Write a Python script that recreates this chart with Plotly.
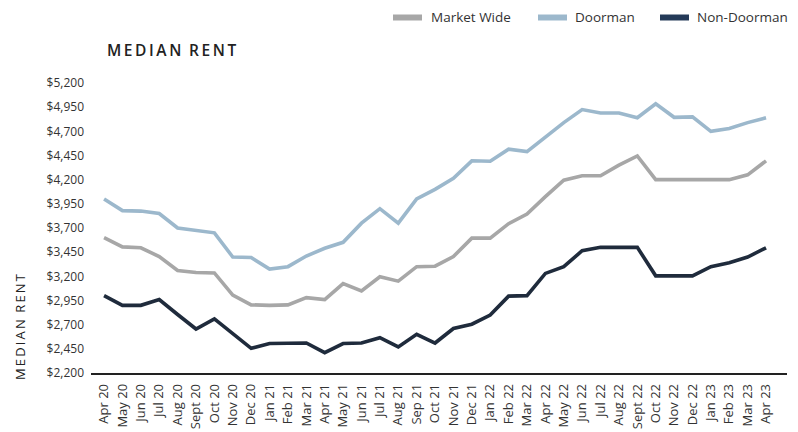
import plotly.graph_objects as go

months = ["Apr 20","May 20","Jun 20","Jul 20","Aug 20","Sept 20","Oct 20","Nov 20","Dec 20",
          "Jan 21","Feb 21","Mar 21","Apr 21","May 21","Jun 21","Jul 21","Aug 21","Sep 21","Oct 21","Nov 21","Dec 21",
          "Jan 22","Feb 22","Mar 22","Apr 22","May 22","Jun 22","Jul 22","Aug 22","Sept 22","Oct 22","Nov 22","Dec 22",
          "Jan 23","Feb 23","Mar 23","Apr 23"]

market_wide = [3600,3505,3495,3405,3260,3240,3235,3005,2905,2900,2905,2980,2960,3125,3050,3195,3150,3300,3305,3405,3595,
               3595,3745,3845,4025,4195,4240,4240,4350,4445,4200,4200,4200,4200,4200,4250,4395]
doorman = [4000,3880,3875,3850,3700,3675,3650,3400,3395,3275,3300,3410,3490,3552,3750,3900,3750,4000,4100,4215,4395,
           4390,4515,4490,4645,4790,4925,4890,4890,4840,4985,4845,4850,4700,4730,4790,4840]
non_doorman = [3000,2900,2900,2960,2805,2655,2760,2610,2455,2505,2510,2510,2410,2505,2510,2565,2470,2600,2510,2660,2705,
               2800,2995,3000,3230,3300,3465,3500,3500,3500,3205,3205,3205,3300,3340,3400,3495]

series_names = ["Market Wide", "Doorman", "Non-Doorman"]
line_colors = ["#a7a7a7", "#9cb8cc", "#1f2b3c"]
legend_colors = ["#a7a7a7", "#9cb8cc", "#243a58"]

y_ticks = [2200,2450,2700,2950,3200,3450,3700,3950,4200,4450,4700,4950,5200]
y_tick_labels = ["${:,}".format(v) for v in y_ticks]

FONT = "Open Sans"
OFF = 8  # page body margin
W, H = 798 - OFF, 432 - OFF
L, T = 91 - OFF, 83 - OFF
R = W - (787 - OFF)
B = H - (373 - OFF)
pw, ph = W - L - R, H - T - B

def px(sx, sy):
    """screen pixel -> paper coords"""
    return (sx - OFF - L) / pw, (H - B - (sy - OFF)) / ph

def spaced(s, sep="\u2009"):
    return sep.join(s)

fig = go.Figure()
for name, vals, color in zip(series_names, [market_wide, doorman, non_doorman], line_colors):
    fig.add_trace(go.Scatter(x=months, y=vals, mode="lines", name=name, showlegend=False,
                             line=dict(color=color, width=3.6)))

# custom legend (swatch screen x-range, text start x)
LEG_Y = 17.5
legend_layout = [(393, 422, 430), (538, 567, 574), (660, 689, 696)]
shapes, annotations = [], []
for name, color, (s0, s1, t0) in zip(series_names, legend_colors, legend_layout):
    x0, yy = px(s0, LEG_Y)
    x1, _ = px(s1, LEG_Y)
    xt, _ = px(t0, LEG_Y)
    shapes.append(dict(type="line", xref="paper", yref="paper", x0=x0, x1=x1, y0=yy, y1=yy,
                       line=dict(color=color, width=6)))
    annotations.append(dict(text=name, x=xt, y=yy, xref="paper", yref="paper", showarrow=False,
                            xanchor="left", yanchor="middle", borderpad=0,
                            font=dict(size=13.5, color="#333333")))

tx, ty = px(105, 50)
ax_, ay_ = px(20, 327)
annotations += [
    dict(text=spaced("MEDIAN") + "\u2002" + spaced("RENT"), x=tx, y=ty, xref="paper", yref="paper",
         showarrow=False, xanchor="left", yanchor="middle",
         font=dict(size=15.5, color="#222222", weight=600)),
    dict(text=spaced("MEDIAN") + "\u2002" + spaced("RENT"), x=ax_, y=ay_, xref="paper", yref="paper",
         showarrow=False, xanchor="center", yanchor="middle", textangle=-90,
         font=dict(size=13, color="#222222", weight=500)),
]

fig.update_layout(
    width=W, height=H,
    margin=dict(l=L, r=R, t=T, b=B, autoexpand=False),
    paper_bgcolor="white", plot_bgcolor="white",
    font=dict(family=FONT, size=12, color="#333333"),
    showlegend=False,
    shapes=shapes,
    annotations=annotations,
)

fig.update_xaxes(type="category", range=[-0.71, 37.14], showgrid=False, showline=True,
                 linecolor="#222222", linewidth=1.5, tickangle=-90, ticks="",
                 ticklabelstandoff=4, tickfont=dict(size=13, color="#333333"))
fig.update_yaxes(range=[2200, 5200], tickvals=y_ticks, ticktext=y_tick_labels, showgrid=False,
                 zeroline=False, showline=False, ticks="", ticklabelstandoff=6,
                 tickfont=dict(size=12, color="#333333"))

fig.write_html("out.html")
